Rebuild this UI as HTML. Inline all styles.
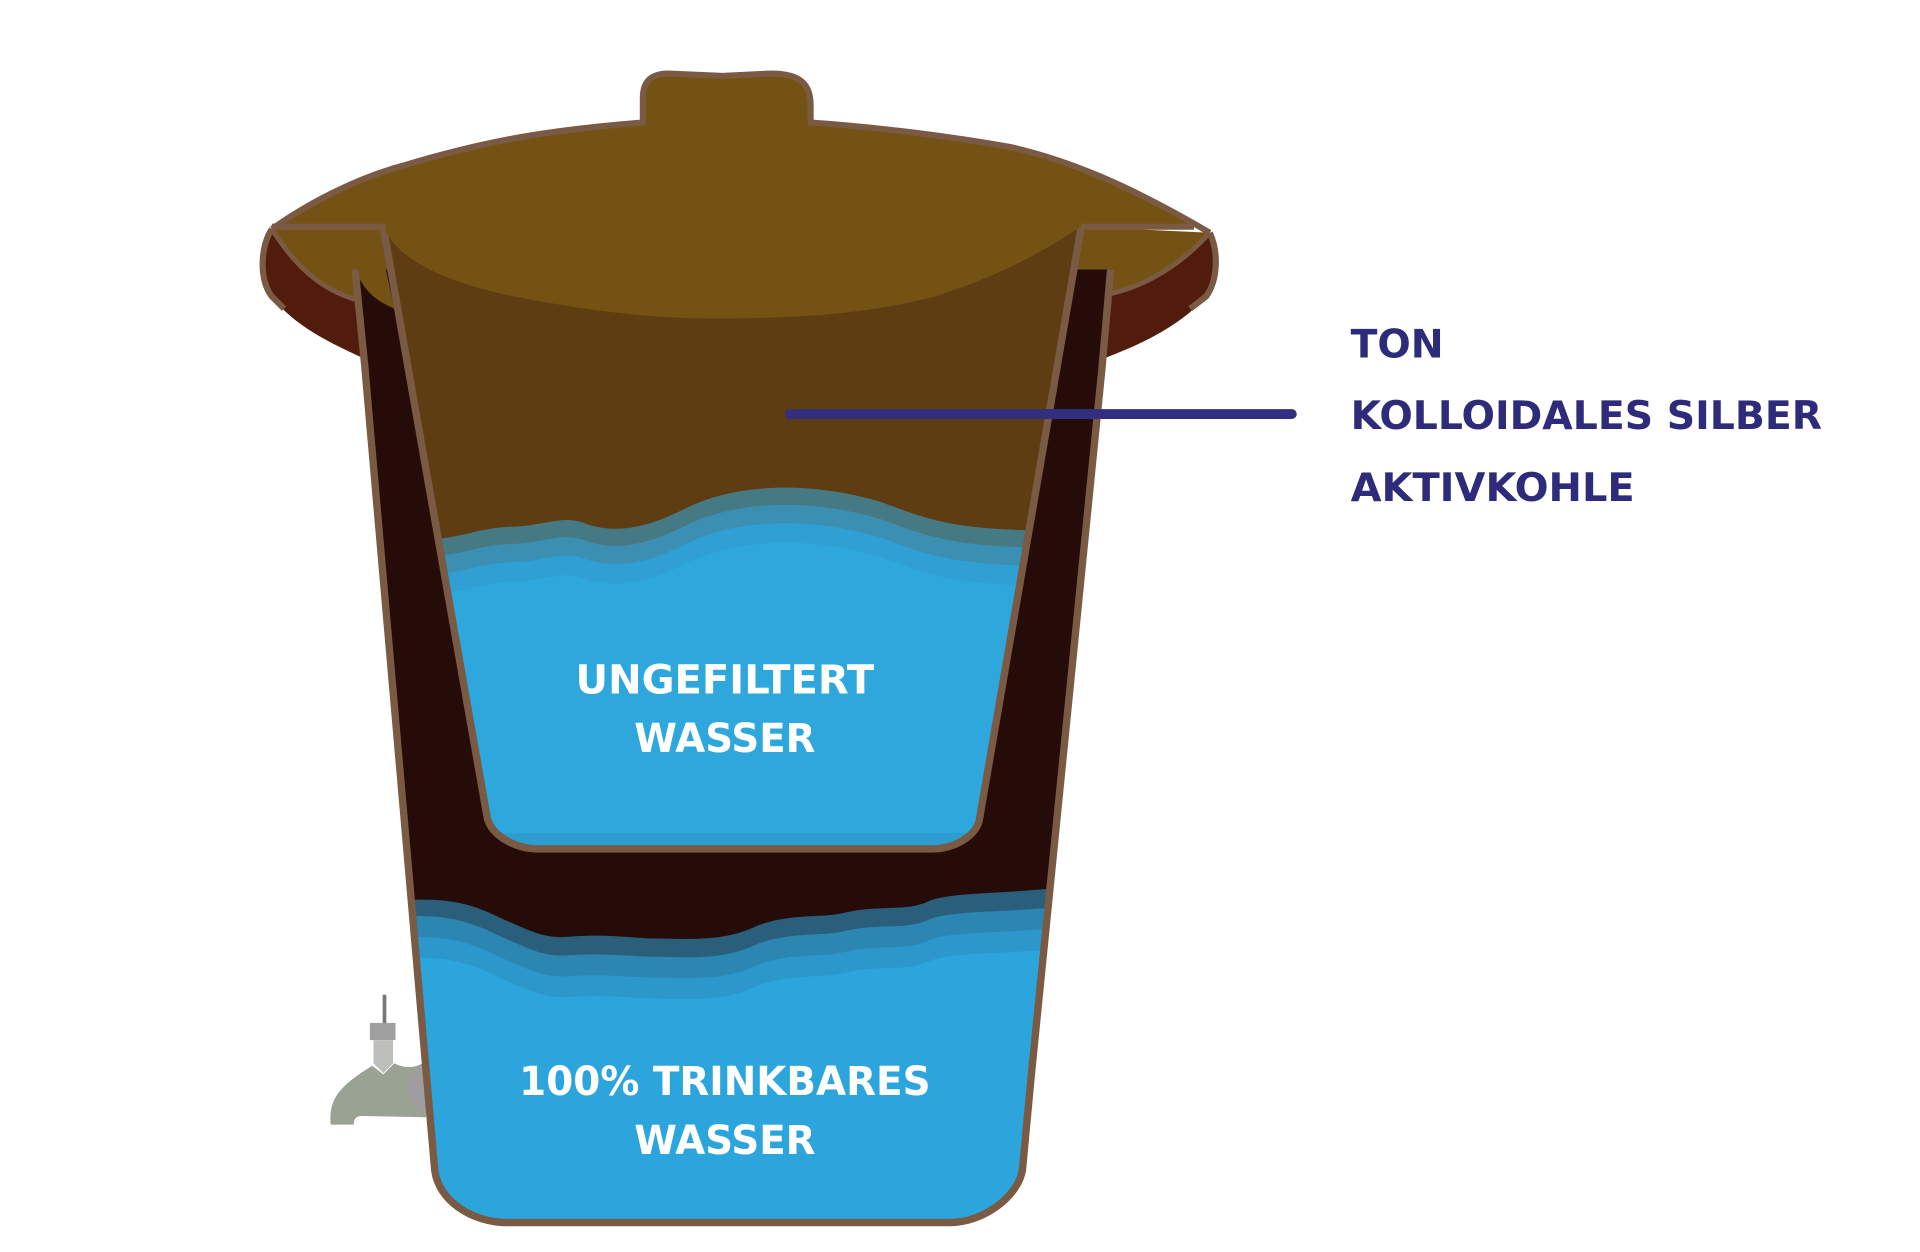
<!DOCTYPE html>
<html><head><meta charset="utf-8"><style>
html,body{margin:0;padding:0;background:#fff;width:1920px;height:1252px;overflow:hidden}
svg{display:block}
text{font-family:"DejaVu Sans","Liberation Sans",sans-serif;font-weight:bold}
</style></head><body>
<svg width="1920" height="1252" viewBox="0 0 1568 1022" preserveAspectRatio="none" xmlns="http://www.w3.org/2000/svg">
<defs>
<clipPath id="outer"><path d="M290,220 L298,300 L355,955 C358,980 385,998 415,998 L775,998 C805,998 832,975 835,955 L842,880 L900,300 L907,220 Z"/></clipPath>
<clipPath id="inner"><path d="M313,185 L398,668 C402,682 420,693 440,693 L760,693 C780,693 798,682 800,668 L883,185 Z"/></clipPath>
</defs>
<!-- tap -->
<line x1="314" y1="812" x2="314" y2="836" stroke="#777" stroke-width="3"/>
<rect x="302" y="835" width="21" height="14" fill="#a0a0a0"/>
<path d="M305,849 L321,849 L321,868 L313,876 L305,868 Z" fill="#bdbfba"/>
<path d="M270,918 C268,895 280,885 304,870 L313,877 L322,868 C330,872 338,872 345,868 L348,912 L296,911 C290,911 289,914 289,918 Z" fill="#9aa294"/>
<circle cx="355" cy="888" r="22" fill="#9e9e9e"/>
<!-- rim sides -->
<path d="M222,187 C213,200 211,228 222,242 C240,266 270,280 296,292 L292,245 C258,236 238,214 222,187 Z" fill="#521c0c"/>
<path d="M988,190 C995,205 995,228 985,242 C966,264 935,280 903,292 L906,240 C940,232 966,214 988,190 Z" fill="#521c0c"/>
<path d="M222,187 C213,200 211,228 222,242 L232,252" fill="none" stroke="#7a5a43" stroke-width="5"/>
<path d="M988,190 C995,205 995,228 985,242 L972,252" fill="none" stroke="#7a5a43" stroke-width="5"/>
<!-- lid skirt fill -->
<path d="M222,187 C240,215 260,236 292,245 L322,252 L313,185 Z" fill="#745214"/>
<path d="M988,190 C966,214 940,232 906,240 L876,248 L883,185 Z" fill="#745214"/>
<path d="M222,187 C240,215 260,236 292,245" fill="none" stroke="#7a5a43" stroke-width="4"/>
<path d="M988,190 C966,214 940,232 906,240" fill="none" stroke="#7a5a43" stroke-width="4"/>
<!-- outer body -->
<path d="M290,220 L298,300 L355,955 C358,980 385,998 415,998 L775,998 C805,998 832,975 835,955 L842,880 L900,300 L907,220 Z" fill="#250c09"/>
<path d="M290,220 C296,235 305,245 322,252 L313,210 Z" fill="#745214"/>
<g clip-path="url(#outer)">
<path d="M330,735 C370,732 390,740 410,750 C430,758 440,765 460,765 C490,762 510,765 530,766 C560,766 590,770 620,755 C650,745 670,750 690,745 C720,738 740,745 760,735 C780,728 820,730 870,724 L870,1010 L330,1010 Z" fill="#2a5f7c"/>
<path d="M330,748 C370,746 390,755 410,765 C430,773 440,780 460,780 C490,778 510,780 530,781 C560,781 590,785 620,770 C650,760 670,765 690,760 C720,753 740,760 760,750 C780,743 820,745 870,740 L870,1010 L330,1010 Z" fill="#2c86b2"/>
<path d="M330,765 C370,763 390,772 410,782 C430,790 440,797 460,797 C490,795 510,797 530,798 C560,798 590,802 620,787 C650,777 670,782 690,777 C720,770 740,777 760,767 C780,760 820,762 870,757 L870,1010 L330,1010 Z" fill="#2b97cb"/>
<path d="M330,782 C370,780 390,789 410,799 C430,807 440,814 460,814 C490,812 510,814 530,815 C560,815 590,819 620,804 C650,794 670,799 690,794 C720,787 740,794 760,784 C780,777 820,779 870,774 L870,1010 L330,1010 Z" fill="#2ca5dc"/>
</g>
<path d="M290,220 L298,300 L355,955 C358,980 385,998 415,998 L775,998 C805,998 832,975 835,955 L842,880 L900,300 L907,220" fill="none" stroke="#7a5a43" stroke-width="6" stroke-linejoin="round"/>
<!-- inner filter -->
<path d="M313,185 L398,668 C402,682 420,693 440,693 L760,693 C780,693 798,682 800,668 L883,185 Z" fill="#5f3d12"/>
<g clip-path="url(#inner)">
<path d="M340,441 C380,440 390,430 420,430 C450,428 460,420 480,428 C510,438 540,425 560,415 C600,395 660,392 720,410 C760,425 780,432 850,433 L850,700 L340,700 Z" fill="#457a85"/>
<path d="M340,455 C380,454 390,444 420,444 C450,442 460,434 480,442 C510,452 540,439 560,429 C600,409 660,406 720,424 C760,439 780,446 850,447 L850,700 L340,700 Z" fill="#3a8fb2"/>
<path d="M340,470 C380,469 390,459 420,459 C450,457 460,449 480,457 C510,467 540,454 560,444 C600,424 660,421 720,439 C760,454 780,461 850,462 L850,700 L340,700 Z" fill="#2f9fd4"/>
<path d="M340,486 C380,485 390,475 420,475 C450,473 460,465 480,473 C510,483 540,470 560,460 C600,440 660,437 720,455 C760,470 780,477 850,478 L850,700 L340,700 Z" fill="#2ea8dc"/>
<rect x="340" y="680" width="520" height="20" fill="#2d9cce"/>
</g>
<path d="M313,185 L398,668 C402,682 420,693 440,693 L760,693 C780,693 798,682 800,668 L883,185" fill="none" stroke="#7a5a43" stroke-width="6" stroke-linejoin="round"/>
<!-- lid -->
<path d="M222,187 C260,160 300,143 330,135 C400,114 450,106 525,100 L525,80 C525,66 532,60 546,60 L590,62 L630,60 C655,60 662,70 662,86 L662,100 C720,104 780,112 825,120 C870,130 920,150 988,190 L975,185 L883,185 C860,200 820,225 760,243 C700,258 640,260 580,260 C520,260 460,250 410,240 C360,228 325,212 313,185 Z" fill="#745214"/>
<path d="M222,187 C260,160 300,143 330,135 C400,114 450,106 525,100 L525,80 C525,66 532,60 546,60 L590,62 L630,60 C655,60 662,70 662,86 L662,100 C720,104 780,112 825,120 C870,130 920,150 988,190" fill="none" stroke="#7a5a43" stroke-width="5" stroke-linejoin="round"/>
<path d="M222,185 L315,185 M883,185 L975,185" stroke="#7a5a43" stroke-width="5"/>
<!-- labels -->
<line x1="645" y1="338" x2="1055" y2="338" stroke="#332f80" stroke-width="8" stroke-linecap="round"/>
<g fill="#2e2b7a" font-size="32">
<text x="1103" y="292" textLength="76" lengthAdjust="spacingAndGlyphs">TON</text>
<text x="1103" y="350" textLength="385" lengthAdjust="spacingAndGlyphs">KOLLOIDALES SILBER</text>
<text x="1103" y="409" textLength="232" lengthAdjust="spacingAndGlyphs">AKTIVKOHLE</text>
</g>
<g fill="#fff" font-size="33" text-anchor="middle">
<text x="592" y="566" textLength="244" lengthAdjust="spacingAndGlyphs">UNGEFILTERT</text>
<text x="592" y="614" textLength="148" lengthAdjust="spacingAndGlyphs">WASSER</text>
<text x="592" y="894" textLength="336" lengthAdjust="spacingAndGlyphs">100% TRINKBARES</text>
<text x="592" y="942" textLength="148" lengthAdjust="spacingAndGlyphs">WASSER</text>
</g>
</svg>
</body></html>
